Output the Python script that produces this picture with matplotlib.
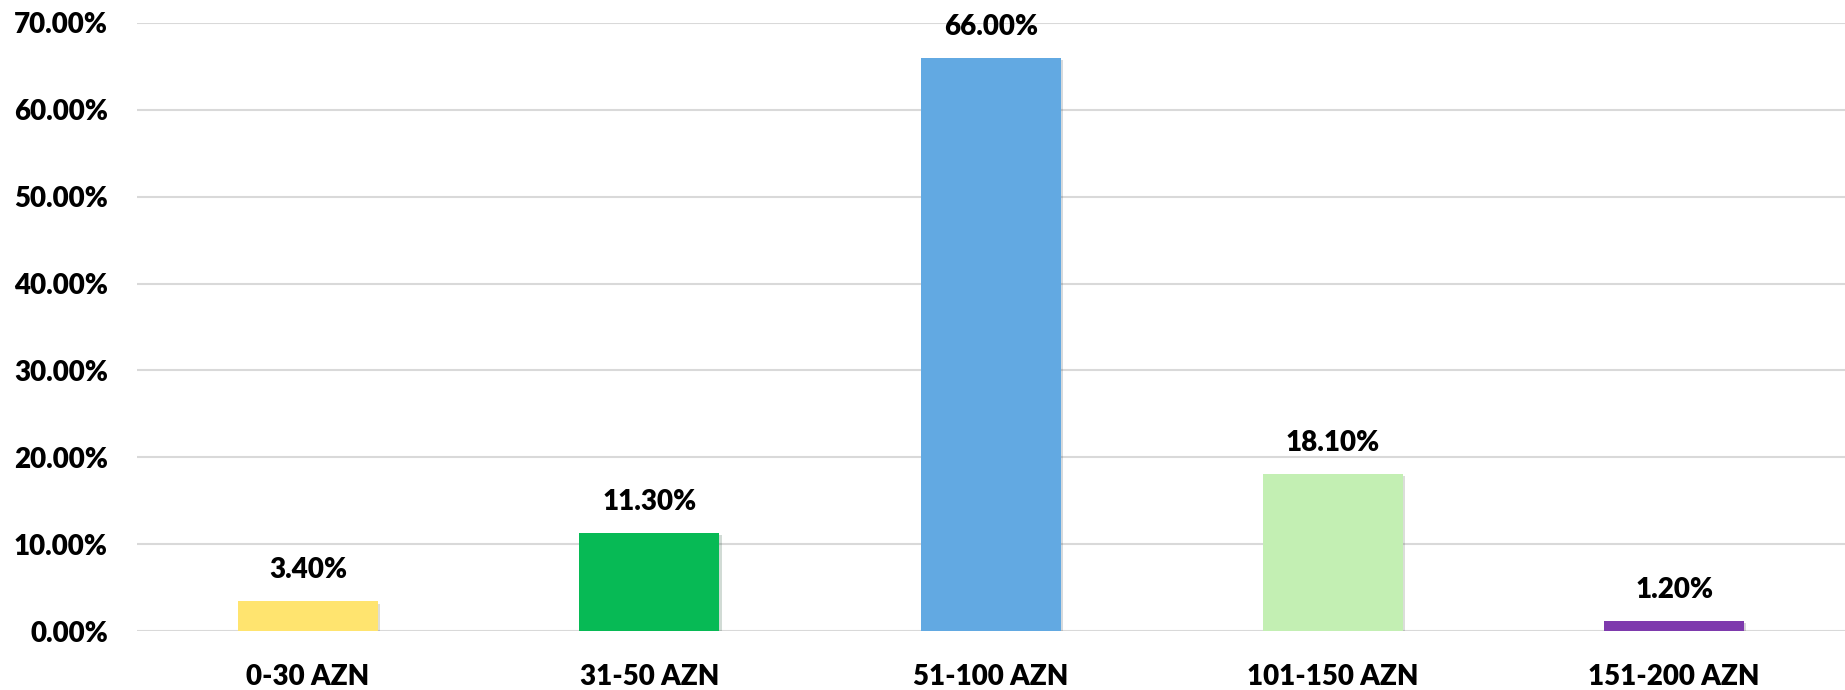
import matplotlib
matplotlib.use("Agg")
import matplotlib.pyplot as plt
import matplotlib.patheffects as pe
from matplotlib.ticker import FuncFormatter

# data
categories = ["0-30 AZN", "31-50 AZN", "51-100 AZN", "101-150 AZN", "151-200 AZN"]
shares = [3.40, 11.30, 66.00, 18.10, 1.20]
colors = ["#FFE46F", "#07BA55", "#62A9E2", "#C3EFB3", "#7E3AAD"]
yticks = [0, 10, 20, 30, 40, 50, 60, 70]

WEIGHT = "heavy"
plt.rcParams["font.family"] = ["Lato", "DejaVu Sans"]
plt.rcParams["font.weight"] = WEIGHT

fig = plt.figure(figsize=(18.45, 6.9), dpi=100)
ax = fig.add_axes([0.0743, 0.0855, 0.9257, 0.8812])

x = range(len(categories))
bars = ax.bar(x, shares, width=0.41, color=colors, zorder=3)
for b in bars:
    b.set_path_effects([pe.SimplePatchShadow(offset=(1.5, -1.5), alpha=0.18), pe.Normal()])

for b, v in zip(bars, shares):
    ax.annotate(f"{v:.2f}%", (b.get_x() + b.get_width() / 2, v),
                xytext=(0, 13), textcoords="offset points",
                ha="center", va="bottom", fontsize=20, fontweight=WEIGHT,
                color="#000000", clip_on=False)

ax.set_xlim(-0.5, len(categories) - 0.5)
ax.set_ylim(0, 70)
ax.set_yticks(yticks)
ax.yaxis.set_major_formatter(FuncFormatter(lambda v, p: f"{v:.2f}%"))
ax.set_xticks(list(x))
ax.set_xticklabels(categories)

ax.grid(axis="y", color="#D9D9D9", linewidth=1.5, zorder=0)
for s in ax.spines.values():
    s.set_visible(False)
ax.tick_params(axis="both", length=0, labelsize=20, colors="#000000")
ax.tick_params(axis="y", pad=21)
ax.tick_params(axis="x", pad=24)
for lbl in ax.get_xticklabels() + ax.get_yticklabels():
    lbl.set_fontweight(WEIGHT)

fig.savefig("out.png", dpi=100, facecolor="white")
